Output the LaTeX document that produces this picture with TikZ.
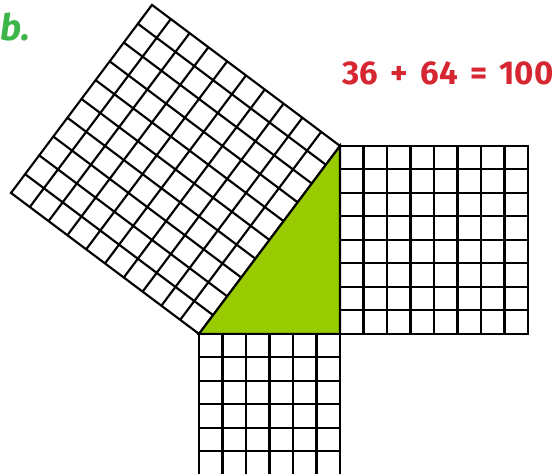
\documentclass[tikz,border=0pt]{standalone}
\usepackage{fontspec}
\setmainfont{Fira Sans}
\usepackage{xcolor}
\usepackage{tikz}
\usetikzlibrary{positioning, calc}
\definecolor{cLeaf}{HTML}{99CC00}
\definecolor{cTag}{HTML}{3DB54A}
\definecolor{cSum}{HTML}{D62631}
\definecolor{cInk}{HTML}{000000}
\tikzset{
  unitgrid/.style={draw=cInk, step=1, line width=1.3pt, line cap=rect, line join=miter},
  wedge/.style={fill=cLeaf, draw=cInk, line width=1.3pt, line join=miter},
  tag/.style={text=cTag, font=\fontsize{22}{26}\selectfont\bfseries\itshape, inner sep=0pt},
  sumtext/.style={text=cSum, font=\fontsize{20}{24}\selectfont\bfseries, inner sep=0pt},
}
\newcommand{\gap}{\hspace{0.37em}}

\begin{document}
\begin{tikzpicture}[x=0.5cm, y=0.5cm]
\useasboundingbox (-8.468,-5.96) rectangle (15.32,14.21);
% corners of the triangle
\coordinate (A) at (0,0);
\coordinate (C) at (6,0);
\coordinate (B) at (6,8);
% square on the hypotenuse (10 x 10)
\begin{scope}[shift={(A)}, rotate=53.1301]
  \draw[unitgrid] (0,0) grid (10,10);
\end{scope}
% square on the short leg (6 x 6)
\draw[unitgrid] (0,-6) grid (6,0);
% square on the long leg (8 x 8)
\draw[unitgrid] (6,0) grid (14,8);
% right triangle
\draw[wedge] (A) -- (C) -- (B) -- cycle;
% labels
\node[tag, anchor=base west] (part) at (-8.468,12.5) {b.};
\node[sumtext] (sum) at (10.6,11.1) {36\gap+\gap64\gap=\gap100};
\end{tikzpicture}
\end{document}
